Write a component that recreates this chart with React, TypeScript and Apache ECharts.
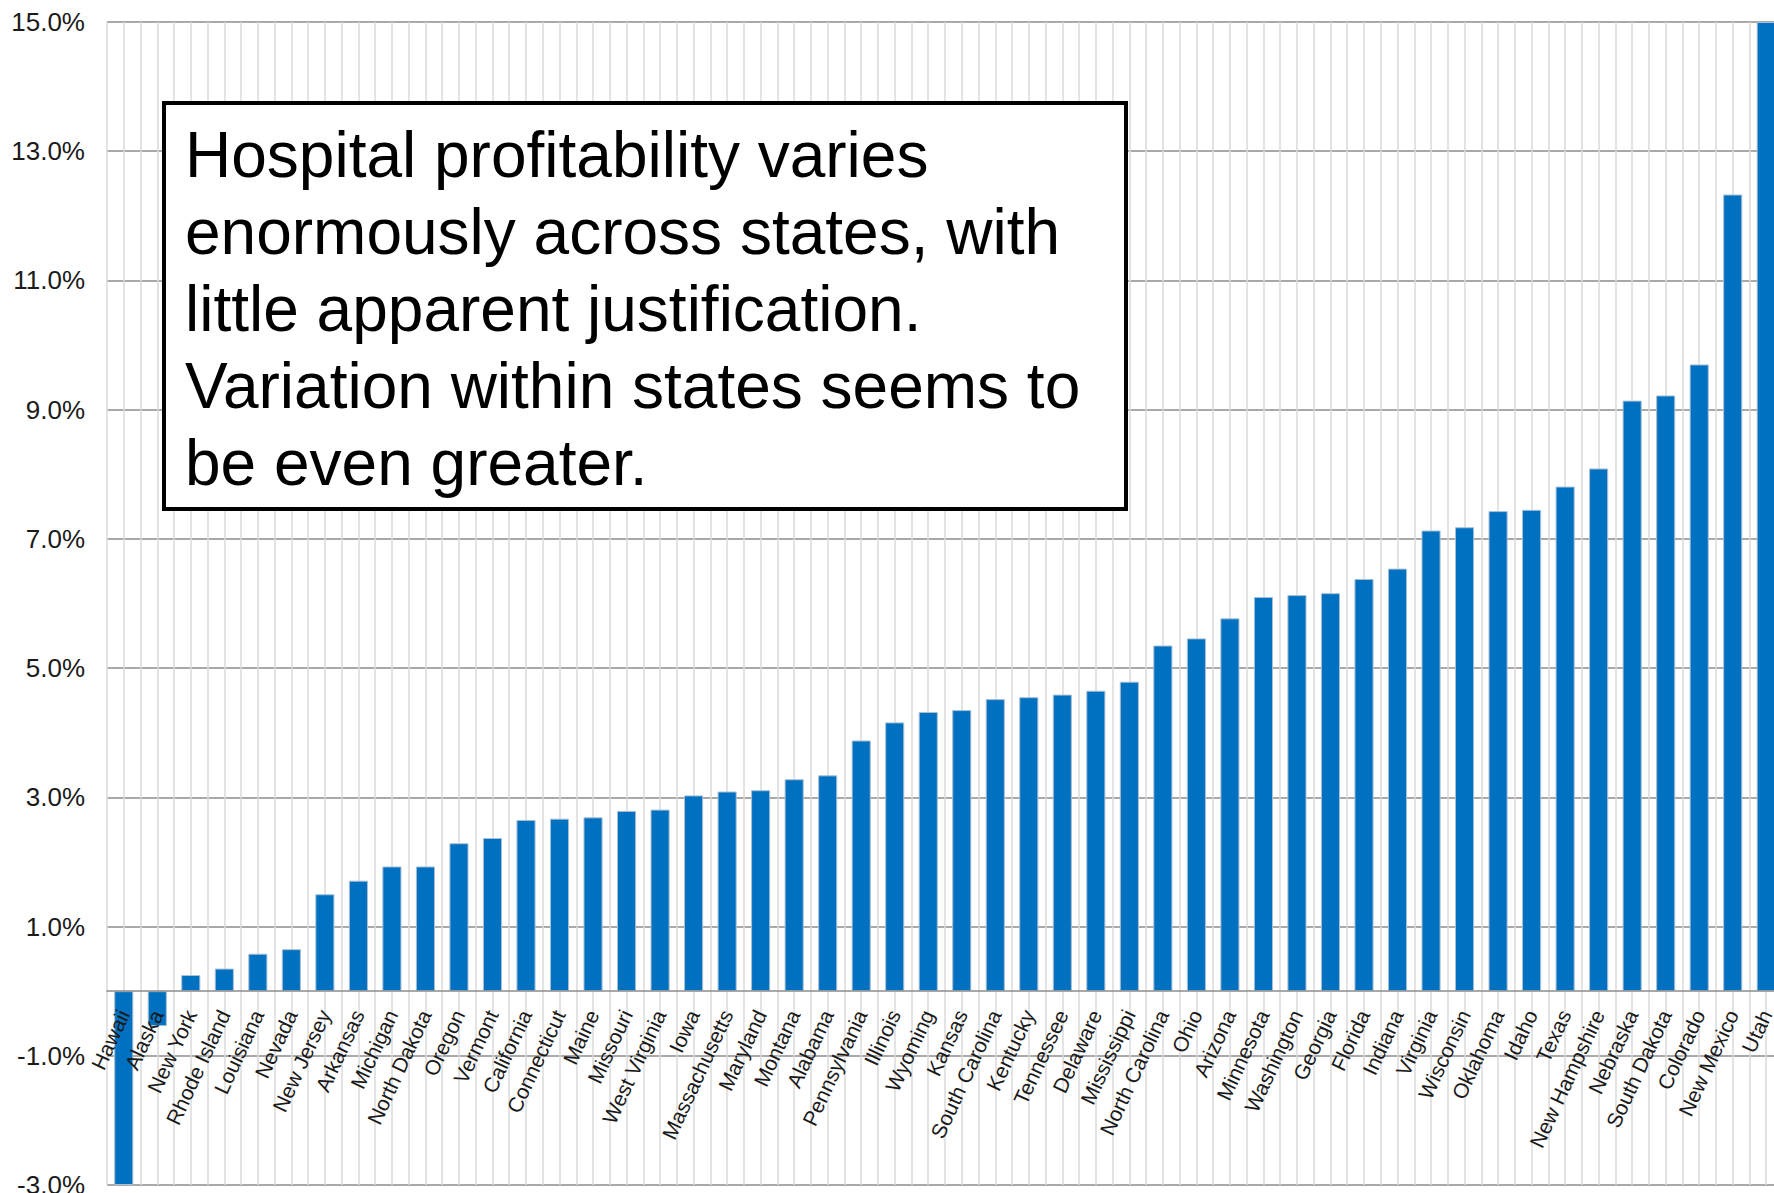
import React, { useEffect, useRef } from "react";
import * as echarts from "echarts";

const states: string[] = [
  "Hawaii", "Alaska", "New York", "Rhode Island", "Louisiana", "Nevada", "New Jersey",
  "Arkansas", "Michigan", "North Dakota", "Oregon", "Vermont", "California", "Connecticut",
  "Maine", "Missouri", "West Virginia", "Iowa", "Massachusetts", "Maryland", "Montana",
  "Alabama", "Pennsylvania", "Illinois", "Wyoming", "Kansas", "South Carolina", "Kentucky",
  "Tennessee", "Delaware", "Mississippi", "North Carolina", "Ohio", "Arizona", "Minnesota",
  "Washington", "Georgia", "Florida", "Indiana", "Virginia", "Wisconsin", "Oklahoma",
  "Idaho", "Texas", "New Hampshire", "Nebraska", "South Dakota", "Colorado", "New Mexico", "Utah",
];

const margins: number[] = [
  -3.0, -0.54, 0.25, 0.35, 0.58, 0.65, 1.5,
  1.71, 1.93, 1.93, 2.29, 2.37, 2.65, 2.67,
  2.69, 2.79, 2.81, 3.03, 3.09, 3.11, 3.28,
  3.34, 3.88, 4.16, 4.32, 4.35, 4.52, 4.55,
  4.59, 4.65, 4.79, 5.35, 5.46, 5.77, 6.1,
  6.13, 6.16, 6.38, 6.54, 7.13, 7.18, 7.43,
  7.45, 7.81, 8.09, 9.14, 9.22, 9.7, 12.33, 15.0,
];

const yMin = -3;
const yMax = 15;
const yStep = 2;

const noteText =
  "Hospital profitability varies\nenormously across states, with\nlittle apparent justification.\nVariation within states seems to\nbe even greater.";

const FONT = "'Liberation Sans', Arial, Helvetica, sans-serif";

const GRID_TOP = 22;
const GRID_BOTTOM_Y = 1185;
const H = 1193;

export default function App() {
  const ref = useRef<HTMLDivElement>(null);
  useEffect(() => {
    if (!ref.current) return;
    const chart = echarts.init(ref.current, null, { renderer: "svg" });
    const plotH = GRID_BOTTOM_Y - GRID_TOP;
    const zeroOffset = (plotH * (0 - yMin)) / (yMax - yMin);
    chart.setOption({
      animation: false,
      backgroundColor: "#ffffff",
      textStyle: { fontFamily: FONT },
      grid: {
        left: 107,
        right: -9,
        top: GRID_TOP,
        bottom: H - GRID_BOTTOM_Y,
        containLabel: false,
        outerBoundsMode: "none",
      },
      xAxis: [
        {
          type: "category",
          data: states,
          z: 10,
          position: "bottom",
          offset: -zeroOffset,
          axisLine: { show: true, onZero: false, lineStyle: { color: "#8c8c8c", width: 1.5 } },
          axisTick: { show: false },
          splitLine: { show: false },
          axisLabel: {
            interval: 0,
            rotate: 65,
            margin: 20,
            fontSize: 21,
            color: "#1a1a1a",
            fontFamily: FONT,
            hideOverlap: false,
          },
        },
        {
          type: "value",
          position: "top",
          min: 0,
          max: states.length * 2,
          interval: 1,
          axisLine: { show: false },
          axisTick: { show: false },
          axisLabel: { show: false },
          splitLine: { show: true, lineStyle: { color: "#dadada", width: 1.5 } },
        },
      ],
      yAxis: {
        type: "value",
        min: yMin,
        max: yMax,
        interval: yStep,
        axisLine: { show: false },
        axisTick: { show: false },
        axisLabel: {
          margin: 22,
          fontSize: 26,
          color: "#1a1a1a",
          fontFamily: FONT,
          formatter: (v: number) => v.toFixed(1) + "%",
        },
        splitLine: { show: true, lineStyle: { color: "#8c8c8c", width: 1.5 } },
      },
      series: [
        {
          type: "bar",
          xAxisIndex: 0,
          data: margins,
          barWidth: "57%",
          itemStyle: { color: "#0070C0", borderColor: "#a9bfd4", borderWidth: 1 },
          clip: true,
        },
      ],
      graphic: [
        {
          type: "rect",
          z: 100,
          shape: { x: 164, y: 103, width: 962, height: 406 },
          style: { fill: "#ffffff", stroke: "#000000", lineWidth: 4 },
        },
        {
          type: "text",
          z: 101,
          x: 185,
          y: 116,
          style: {
            text: noteText,
            fontSize: 64,
            lineHeight: 77,
            fill: "#000000",
            fontFamily: FONT,
            verticalAlign: "top",
            align: "left",
          },
        },
      ],
    });
    return () => chart.dispose();
  }, []);
  return (
    <div
      ref={ref}
      style={{ position: "fixed", left: 0, top: 0, width: 1774, height: 1193, overflow: "hidden" }}
    />
  );
}
